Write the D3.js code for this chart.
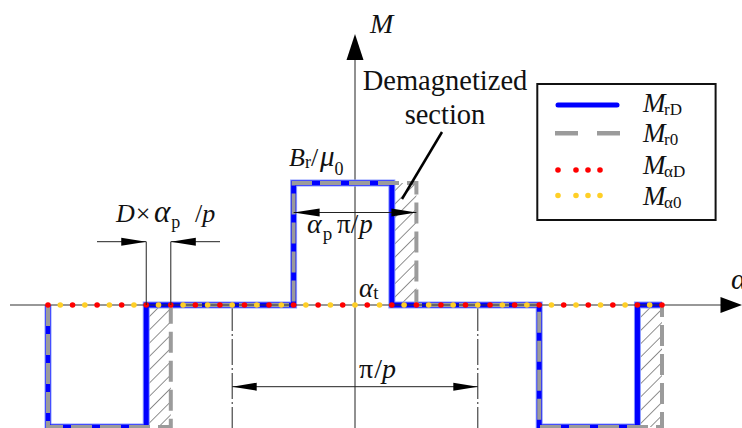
<!DOCTYPE html>
<html>
<head>
<meta charset="utf-8">
<script src="https://cdn.jsdelivr.net/npm/d3@7"></script>
<style>
  html, body { margin: 0; padding: 0; background: #fff; overflow: hidden; }
  svg { display: block; }
  text { font-family: "Liberation Serif", "Times New Roman", serif; fill: #111; }
</style>
</head>
<body>
<svg id="chart" width="742" height="428"></svg>
<script>
// Electrical angle θ = p·α in degrees (π/p corresponds to 180°), M normalised to Br/μ0.
// Remanent magnetization, healthy magnet (M_r0)
const r0Angles = [-225, -225, -135, -135, -45, -45, 45, 45, 135, 135, 225, 225];
const mR0      = [0, -1, -1, 0, 0, 1, 1, 0, 0, -1, -1, 0];
// Remanent magnetization, demagnetized magnet (M_rD)
const rDAngles = [-225, -225, -153, -153, -45, -45, 27, 27, 135, 135, 207, 207, 225];
const mRD      = [0, -1, -1, 0, 0, 1, 1, 0, 0, -1, -1, 0, 0];
// Tangential components (M_αD, M_α0)
const alphaAngles = [-225, 225];
const mAlphaD = [0, 0];
const mAlpha0 = [0, 0];
const dotStep = 18;            // spacing of the dotted curves, degrees
// Demagnetized sections of each magnet
const demagStart = [-153, 27, 207];
const demagEnd   = [-135, 45, 225];
const demagLevel = [-1, 1, -1];
// Dimension marks
const poleArc   = [-45, 45];   // α_p π/p
const polePitch = [-90, 90];   // π/p
const demagDim  = [-153, -135];// D×α_p/p

const legendNames = ["rD", "r0", "αD", "α0"];

const svg = d3.select("#chart");
const x = d3.scaleLinear().domain([-225, 225]).range([48, 662]);
const y = d3.scaleLinear().domain([-1, 1]).range([427, 183]);
const x0 = x(0), y0 = y(0);

const BLUE = "#0000ff", HALO = "#8b9bff", GRAY = "#9b9b9b", RED = "#ff0000", YEL = "#ffcf26";

function tri(tipX, tipY, dir, len, half) {
  let p;
  if (dir === "r") p = [[tipX, tipY], [tipX - len, tipY - half], [tipX - len, tipY + half]];
  else if (dir === "l") p = [[tipX, tipY], [tipX + len, tipY - half], [tipX + len, tipY + half]];
  else p = [[tipX, tipY], [tipX - half, tipY + len], [tipX + half, tipY + len]];
  svg.append("path").attr("d", "M" + p.join("L") + "Z").attr("fill", "#000");
}
function seg(x1, y1, x2, y2, w, dash, col) {
  const l = svg.append("line").attr("x1", x1).attr("y1", y1).attr("x2", x2).attr("y2", y2)
    .attr("stroke", col || "#111").attr("stroke-width", w || 1);
  if (dash) l.attr("stroke-dasharray", dash);
  return l;
}
// Text made of runs: italic (i), size (s), baseline offset (o), optional x
function label(x0_, baseY, size, parts) {
  const t = svg.append("text").attr("x", x0_).attr("y", baseY).attr("font-size", size);
  let cur = 0;
  parts.forEach(p => {
    const s = t.append("tspan").text(p.t);
    if (p.x != null) s.attr("x", p.x);
    if (p.dx) s.attr("dx", p.dx);
    if (p.i) s.attr("font-style", "italic");
    if (p.s) s.attr("font-size", p.s);
    const off = p.o || 0;
    s.attr("dy", off - cur);
    cur = off;
  });
  return t;
}

// Hatch pattern for demagnetized sections
const defs = svg.append("defs");
const pat = defs.append("pattern").attr("id", "hatch").attr("patternUnits", "userSpaceOnUse")
  .attr("width", 9.4).attr("height", 9.4).attr("patternTransform", "rotate(45)");
pat.append("line").attr("x1", 0).attr("y1", 0).attr("x2", 0).attr("y2", 9.4)
  .attr("stroke", "#222").attr("stroke-width", 1);

// Pole pitch extension lines (dash-dot) and vertical axis
polePitch.forEach(a => seg(x(a), y0, x(a), 428, 1, "26,3,2,3", "#222"));
seg(x0, 58, x0, 428, 1, null, "#222");

// Hatched demagnetized sections
svg.append("g").selectAll("rect").data(demagStart).join("rect")
  .attr("x", d => x(d))
  .attr("width", (d, i) => x(demagEnd[i]) - x(d))
  .attr("y", (d, i) => Math.min(y(demagLevel[i]), y0))
  .attr("height", (d, i) => Math.abs(y(demagLevel[i]) - y0))
  .attr("fill", "url(#hatch)");

// M_rD and M_r0 step curves
const lineRD = d3.line().x((d, i) => x(rDAngles[i])).y(d => y(d));
const lineR0 = d3.line().x((d, i) => x(r0Angles[i])).y(d => y(d));
svg.append("path").attr("d", lineRD(mRD)).attr("fill", "none")
  .attr("stroke", HALO).attr("stroke-width", 7);
svg.append("path").attr("d", lineRD(mRD)).attr("fill", "none")
  .attr("stroke", BLUE).attr("stroke-width", 5);
svg.append("path").attr("d", lineR0(mR0)).attr("fill", "none")
  .attr("stroke", GRAY).attr("stroke-width", 4).attr("stroke-dasharray", "21,8");

// Horizontal axis and arrowheads
seg(10, y0, 722, y0, 1.1, null, "#333");
tri(742, y0, "r", 21.5, 8);
tri(x0, 34, "u", 26, 8.5);

// Tangential components as dotted lines
const step = (x(dotStep) - x(0)) - 0.002;
const lineA = d3.line().x((d, i) => x(alphaAngles[i])).y(d => y(d));
svg.append("path").attr("d", lineA(mAlpha0)).attr("fill", "none")
  .attr("stroke", YEL).attr("stroke-width", 5.6).attr("stroke-linecap", "round")
  .attr("stroke-dasharray", `0,${step}`).attr("stroke-dashoffset", step / 2);
svg.append("path").attr("d", lineA(mAlphaD)).attr("fill", "none")
  .attr("stroke", RED).attr("stroke-width", 5.6).attr("stroke-linecap", "round")
  .attr("stroke-dasharray", `0,${step}`);

// Axis labels
label(370, 33, 28, [{ t: "M", i: 1 }]);
label(731, 289, 30, [{ t: "α", i: 1 }]);

// Dimension: D×α_p/p
const dY = 241.7;
seg(x(demagDim[0]), dY, x(demagDim[0]), y0, 1, null, "#222");
seg(x(demagDim[1]), dY, x(demagDim[1]), y0, 1, null, "#222");
seg(97, dY, x(demagDim[0]), dY, 1, null, "#222");
seg(x(demagDim[1]), dY, 220, dY, 1, null, "#222");
tri(x(demagDim[0]), dY, "r", 25, 4);
tri(x(demagDim[1]), dY, "l", 25, 4);
label(116, 221.5, 26, [
  { t: "D", i: 1 }, { t: "×", dx: 1 }, { t: "α", i: 1, s: 31, x: 154 },
  { t: "p", s: 18, o: 6, dx: 1 }, { t: "/", x: 195 }, { t: "p", i: 1, dx: 0 }
]);

// Dimension: α_p π/p
const aY = 212.5;
seg(x(poleArc[0]), aY, x(poleArc[1]), aY, 1, null, "#222");
tri(x(poleArc[0]), aY, "l", 26, 4);
tri(x(poleArc[1]), aY, "r", 25, 4);
label(307, 233, 27, [
  { t: "α", i: 1, s: 28 }, { t: "p", s: 19, o: 7, dx: 1 },
  { t: "π", x: 337 }, { t: "/" }, { t: "p", i: 1, dx: 1 }
]);

// Dimension: π/p
const pY = 386.7;
seg(x(polePitch[0]), pY, x(polePitch[1]), pY, 1, null, "#222");
tri(x(polePitch[0]), pY, "l", 24.5, 4);
tri(x(polePitch[1]), pY, "r", 24.5, 4);
label(359, 378, 28, [{ t: "π" }, { t: "/", dx: 1 }, { t: "p", i: 1 }]);

// Amplitude and angle labels
label(289, 165.5, 26, [
  { t: "B", i: 1 }, { t: "r", s: 18, o: 2 }, { t: "/" },
  { t: "μ", i: 1, s: 29, x: 320 }, { t: "0", s: 18, o: 9 }
]);
label(359, 297, 27, [{ t: "α", i: 1 }, { t: "t", s: 19, o: 2 }]);

// Demagnetized section callout
svg.append("text").attr("x", 445).attr("y", 90).attr("font-size", 28.5)
  .attr("text-anchor", "middle").text("Demagnetized");
svg.append("text").attr("x", 445).attr("y", 124).attr("font-size", 28.5)
  .attr("text-anchor", "middle").text("section");
seg(442, 132, 402, 199, 2.5, null, "#000");

// Legend
svg.append("rect").attr("x", 537.3).attr("y", 84).attr("width", 178.3).attr("height", 136)
  .attr("fill", "#fff").attr("stroke", "#111").attr("stroke-width", 2);
seg(558, 105, 617, 105, 5, null, BLUE).attr("stroke-linecap", "round");
seg(555, 133.3, 620, 133.3, 4.5, "23,19", GRAY);
seg(558, 170, 618, 170, 5.6, "0,18,0,12,0,12,0,18", RED).attr("stroke-linecap", "round");
seg(558, 195.5, 618, 195.5, 5.6, "0,18,0,12,0,12,0,18", YEL).attr("stroke-linecap", "round");
const rowBase = [112, 141.5, 174, 205];
legendNames.forEach((n, i) => {
  label(643, rowBase[i], 27, [{ t: "M", i: 1 }, { t: n, s: 17, o: 3, x: 664 }]);
});
</script>
</body>
</html>
